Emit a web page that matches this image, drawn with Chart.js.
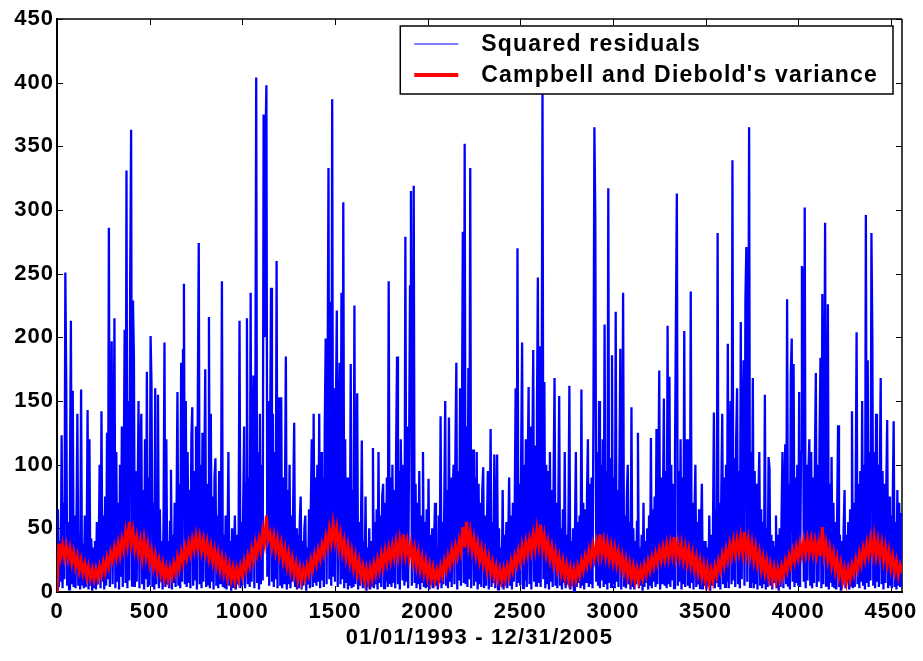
<!DOCTYPE html>
<html><head><meta charset="utf-8">
<script src="https://cdn.jsdelivr.net/npm/chart.js@4/dist/chart.umd.min.js"></script>
<style>html,body{margin:0;padding:0;background:#fff;}canvas{display:block;}</style>
</head><body>
<canvas id="c" width="923" height="661"></canvas>
<script>
// ---------- data ----------
const residualStepDays = 5;   // one residual sample every 5 days
const varianceStepDays = 10;  // one variance sample every 10 days
const xAxisMax = 4560;
const seriesLabels = ['Squared residuals', "Campbell and Diebold's variance"];
const xTitle = '01/01/1993 - 12/31/2005';
const xTickValues = [0,500,1000,1500,2000,2500,3000,3500,4000,4500];
const yTickValues = [0,50,100,150,200,250,300,350,400,450];

const squaredResiduals = [
2,65,4,40,8,123,3,70,10,251,160,5,55,2,90,213,6,158,4,60,
3,50,140,5,45,2,159,6,38,3,60,4,30,143,2,120,5,42,1,35,
4,40,2,55,6,30,100,3,142,8,60,2,75,5,125,10,286,4,80,197,
6,90,215,3,110,8,70,2,100,12,130,4,85,206,7,331,3,150,9,246,
363,5,229,185,4,95,8,70,150,3,110,140,6,80,2,120,10,173,4,90,
5,201,163,4,70,2,160,6,50,155,3,65,8,40,2,55,196,4,120,6,
40,3,55,96,2,45,7,70,4,60,157,5,85,3,180,8,190,242,6,150,
4,110,7,80,3,120,145,5,95,10,130,2,155,274,6,100,3,125,8,90,
175,4,85,6,216,3,140,8,75,2,90,105,5,60,3,95,7,50,244,4,
45,3,60,2,35,110,5,40,1,50,4,30,60,2,45,6,38,213,3,55,
5,70,130,3,85,215,6,90,4,235,8,100,170,3,120,404,7,110,2,140,
6,100,9,375,200,354,398,12,150,5,120,239,8,140,4,110,10,260,3,130,
153,5,153,3,90,7,70,185,2,80,6,100,3,60,8,75,133,4,50,2,
45,3,55,75,2,40,5,50,60,1,35,6,65,3,70,120,4,140,7,90,
5,100,8,140,3,110,9,90,4,130,199,6,150,333,10,228,5,387,12,160,
8,140,221,4,120,180,6,235,10,306,3,120,7,90,2,75,5,179,3,80,
4,225,6,70,156,2,55,5,45,119,3,40,7,75,1,35,4,50,2,40,
5,113,3,55,6,65,2,110,7,60,4,75,85,3,70,8,90,4,244,6,
90,4,100,7,80,3,110,185,6,95,2,120,70,9,100,5,279,8,130,3,
110,240,315,5,90,319,7,85,3,70,6,95,2,60,8,110,4,55,3,65,
4,89,2,45,6,50,3,40,70,5,35,2,60,7,138,3,55,6,70,150,
5,80,3,137,8,90,4,75,100,6,110,180,2,95,9,160,5,120,283,7,
352,6,130,4,176,10,333,3,100,112,5,90,8,110,2,85,6,70,4,80,
98,3,60,5,50,95,2,45,128,4,55,7,108,3,40,108,2,50,6,35,
4,80,2,45,6,55,3,40,90,5,60,2,70,8,65,160,4,270,7,85,
5,110,196,3,100,9,120,4,90,161,6,130,2,105,190,8,115,5,140,247,
7,193,4,120,393,10,165,3,100,6,95,2,110,8,80,4,90,168,5,70,
3,60,154,5,50,2,65,7,110,3,45,6,55,162,2,40,5,50,1,45,
110,4,55,7,60,3,159,5,70,2,65,8,75,120,4,85,6,90,3,145,
365,294,8,110,5,150,3,100,9,120,4,210,6,95,2,317,7,105,4,186,
6,90,3,220,8,80,4,95,191,2,70,235,5,60,3,75,100,6,55,2,
145,4,50,2,40,6,55,125,3,35,5,45,1,70,4,40,7,50,2,60,
5,121,3,65,8,75,4,128,6,80,174,2,90,7,70,152,5,95,3,209,
6,169,4,100,9,85,3,110,213,313,5,95,8,120,2,90,6,205,4,100,
120,5,80,3,236,7,70,2,60,100,4,55,6,65,3,45,85,2,40,5,
40,2,35,5,60,1,45,6,50,141,3,65,7,282,4,70,2,80,140,6,
90,4,100,8,195,3,110,150,6,339,9,105,4,120,160,7,95,3,212,10,
120,182,5,229,271,8,130,365,4,110,7,168,3,95,6,85,2,75,110,5,
65,3,55,6,155,2,50,4,106,97,5,45,2,40,7,35,60,3,45,1,
50,4,60,110,3,70,116,6,230,5,85,2,171,199,8,179,4,90,7,100,
5,157,4,110,256,249,8,302,3,100,9,95,120,5,110,3,90,7,105,172,
4,100,8,120,184,3,234,6,110,290,5,95,226,2,85,7,106,4,70,3,
55,2,60,131,4,45,1,40,6,50,80,3,45,7,55,2,65,5,142,3,
70,4,80,204,6,85,3,95,8,150,5,100,2,296,7,182,4,110,9,282,
199,5,110,3,140,8,100,4,90,168,6,95,2,85,7,80,135,3,75,5,
60,3,70,134,4,55,2,80,5,70,4,62,3
];

const campbellDieboldVariance = [
0,38,28,37,27,36,26,34,23,31,
20,28,17,25,15,22,12,20,11,18,
10,18,11,20,13,23,16,27,20,31,
25,35,27,38,29,41,33,47,37,55,
38,48,34,43,30,40,27,41,28,37,
23,32,20,29,17,25,14,22,11,19,
10,19,12,22,15,27,19,31,23,35,
27,38,30,41,33,44,34,43,32,41,
30,39,27,36,24,33,21,30,18,27,
15,24,12,21,10,19,9,18,10,20,
13,24,17,28,21,33,25,38,30,41,
33,48,39,60,41,46,35,44,32,41,
29,38,25,34,21,30,17,26,14,22,
10,19,9,18,11,21,14,25,18,29,
22,33,26,37,30,43,35,49,39,53,
40,50,35,45,31,40,27,36,23,32,
19,28,15,24,12,20,9,18,9,19,
11,22,14,25,17,29,20,32,23,34,
25,36,27,39,28,41,30,45,29,39,
27,37,24,34,21,31,18,27,15,24,
12,21,10,19,9,17,10,20,13,24,
17,28,21,33,25,36,28,40,32,51,
35,55,37,47,33,42,29,38,25,34,
22,31,18,27,15,23,12,20,10,18,
9,18,10,20,13,24,17,28,21,32,
24,36,27,39,30,41,32,45,34,49,
37,53,34,44,30,39,26,35,22,31,
18,27,15,24,12,21,10,19,9,18,
10,20,13,24,17,28,21,32,24,36,
27,39,29,45,30,40,28,38,26,36,
24,34,22,31,19,28,16,25,13,22,
11,20,9,18,9,18,11,21,14,24,
17,27,20,30,23,33,25,35,26,37,
27,38,29,43,28,38,27,37,25,35,
23,33,21,30,18,27,15,24,12,21,
9,19,7,17,9,20,13,24,17,29,
21,33,25,37,28,40,30,41,31,43,
31,47,30,41,28,38,25,35,22,31,
18,27,15,24,12,21,10,19,9,18,
10,20,13,24,17,28,21,32,24,35,
27,38,29,40,30,41,31,41,30,40,
29,39,28,51,29,38,25,34,21,30,
17,26,13,22,9,18,8,18,10,21,
14,25,18,30,22,34,26,38,29,41,
30,43,29,40,28,38,25,35,22,32,
19,28,16,24,13,21,15
];

// ---------- rendering ----------
const FONT = '"Liberation Sans", Arial, Helvetica, sans-serif';
const BLUE = '#0000ff', RED = '#ff0000';

const spacingPlugin = {
  id: 'spacing',
  beforeDraw(chart) { chart.ctx.letterSpacing = '1px'; }
};

const framePlugin = {
  id: 'frame',
  beforeDatasetsDraw(chart) {
    const {ctx, chartArea: a, scales} = chart;
    ctx.save();
    ctx.strokeStyle = '#000';
    ctx.lineWidth = 1;
    const tl = 6;
    ctx.beginPath();
    xTickValues.forEach(v => {
      const px = Math.round(scales.x.getPixelForValue(v)) + 0.5;
      ctx.moveTo(px, a.top); ctx.lineTo(px, a.top + tl);
      ctx.moveTo(px, a.bottom); ctx.lineTo(px, a.bottom - tl);
    });
    yTickValues.forEach(v => {
      const py = Math.round(scales.y.getPixelForValue(v)) + 0.5;
      ctx.moveTo(a.left, py); ctx.lineTo(a.left + tl, py);
      ctx.moveTo(a.right, py); ctx.lineTo(a.right - tl, py);
    });
    ctx.stroke();
    ctx.lineWidth = 1.5;
    ctx.beginPath();
    ctx.moveTo(a.left, a.top); ctx.lineTo(a.right, a.top);
    ctx.moveTo(a.right, a.top); ctx.lineTo(a.right, a.bottom);
    ctx.stroke();
    ctx.lineWidth = 2;
    ctx.beginPath();
    ctx.moveTo(a.left, a.top - 1); ctx.lineTo(a.left, a.bottom);
    ctx.lineTo(a.right + 1, a.bottom);
    ctx.stroke();
    ctx.restore();
  }
};

const legendPlugin = {
  id: 'boxLegend',
  afterDatasetsDraw(chart) {
    const {ctx, chartArea: a} = chart;
    ctx.save();
    ctx.font = 'bold 23px ' + FONT;
    ctx.letterSpacing = '1.2px';
    const widths = chart.data.datasets.map(d => ctx.measureText(d.label).width);
    const textOffset = 81;
    const boxW = textOffset + Math.max(...widths) + 15;
    const boxH = 68;
    const right = a.right - 9;
    const left = right - boxW;
    const top = a.top + 7;
    ctx.fillStyle = '#fff';
    ctx.fillRect(left, top, boxW, boxH);
    ctx.strokeStyle = '#000';
    ctx.lineWidth = 1.5;
    ctx.strokeRect(left, top, boxW, boxH);
    const rowsY = [top + 18, top + 49];
    chart.data.datasets.forEach((d, i) => {
      ctx.strokeStyle = d.borderColor;
      ctx.lineWidth = i === 0 ? 1 : 4;
      ctx.beginPath();
      ctx.moveTo(left + 14, Math.round(rowsY[i]));
      ctx.lineTo(left + 58, Math.round(rowsY[i]));
      ctx.stroke();
      ctx.fillStyle = '#000';
      ctx.textBaseline = 'middle';
      ctx.textAlign = 'left';
      ctx.fillText(d.label, left + textOffset, rowsY[i] + 1);
    });
    // x axis title
    ctx.font = 'bold 22px ' + FONT;
    ctx.letterSpacing = '1.2px';
    ctx.textAlign = 'center';
    ctx.textBaseline = 'middle';
    ctx.fillText(xTitle, (a.left + a.right) / 2, 638);
    ctx.restore();
  }
};

const tickFont = {family: FONT, size: 22, weight: 'bold'};

new Chart(document.getElementById('c').getContext('2d'), {
  type: 'line',
  data: {
    datasets: [
      {
        label: seriesLabels[0],
        data: squaredResiduals.map((v, i) => ({x: i * residualStepDays, y: v})),
        borderColor: BLUE, borderWidth: 2.3, pointRadius: 0, order: 1
      },
      {
        label: seriesLabels[1],
        data: campbellDieboldVariance.map((v, i) => ({x: i * varianceStepDays, y: v})),
        borderColor: RED, borderWidth: 3, pointRadius: 0, order: 0
      }
    ]
  },
  options: {
    responsive: false,
    animation: false,
    events: [],
    layout: {padding: {top: 19, right: 21, left: 0, bottom: 0}},
    elements: {line: {tension: 0, fill: false, borderJoinStyle: 'miter'}},
    plugins: {legend: {display: false}, tooltip: {enabled: false}},
    scales: {
      x: {
        type: 'linear', min: 0, max: xAxisMax,
        grid: {display: false, drawTicks: false},
        border: {display: false},
        afterBuildTicks: s => { s.ticks = xTickValues.map(v => ({value: v})); },
        afterFit: s => { s.height = 69; },
        ticks: {font: tickFont, color: '#000', padding: 7, maxRotation: 0, autoSkip: false,
                callback: v => String(v)}
      },
      y: {
        type: 'linear', min: 0, max: 450,
        grid: {display: false, drawTicks: false},
        border: {display: false},
        afterBuildTicks: s => { s.ticks = yTickValues.map(v => ({value: v})); },
        afterFit: s => { s.width = 57; },
        ticks: {font: tickFont, color: '#000', padding: 3, autoSkip: false,
                callback: v => String(v)}
      }
    }
  },
  plugins: [spacingPlugin, framePlugin, legendPlugin]
});
</script>
</body></html>
